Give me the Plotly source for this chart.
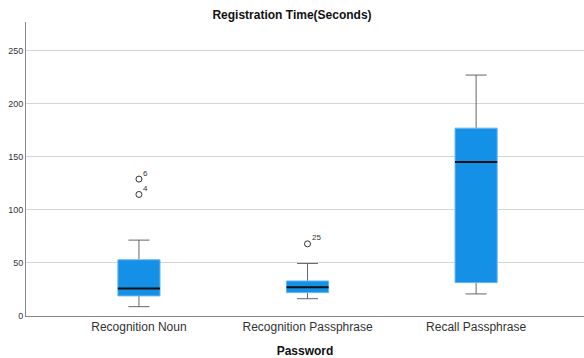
import plotly.graph_objects as go

categories = ["Recognition Noun", "Recognition Passphrase", "Recall Passphrase"]
whisker_low = [8.8, 16.3, 20.8]
q1 = [18.9, 22.0, 31.4]
median = [26.0, 27.0, 145.0]
q3 = [53.0, 33.0, 177.0]
whisker_high = [71.5, 49.5, 227.0]
outlier_cat = [0, 0, 1]
outlier_val = [129.0, 114.5, 68.0]
outlier_lab = ["6", "4", "25"]

BOX_HALF = 0.125
CAP_HALF = 0.0625
fill = "#1490e6"
edge = "#6bb8f0"
wcol = "#666666"

fig = go.Figure()
for i, c in enumerate(categories):
    fig.add_trace(go.Scatter(x=[i, i, None, i, i], y=[whisker_low[i], q1[i], None, q3[i], whisker_high[i]],
                             mode="lines", line=dict(color=wcol, width=1), hoverinfo="skip", showlegend=False))
    fig.add_trace(go.Scatter(x=[i - CAP_HALF, i + CAP_HALF, None, i - CAP_HALF, i + CAP_HALF],
                             y=[whisker_low[i], whisker_low[i], None, whisker_high[i], whisker_high[i]],
                             mode="lines", line=dict(color=wcol, width=1), hoverinfo="skip", showlegend=False))
    fig.add_trace(go.Scatter(x=[i - BOX_HALF, i + BOX_HALF, i + BOX_HALF, i - BOX_HALF, i - BOX_HALF],
                             y=[q1[i], q1[i], q3[i], q3[i], q1[i]], fill="toself", fillcolor=fill,
                             mode="lines", line=dict(color=edge, width=1), hoverinfo="skip", showlegend=False))
    fig.add_trace(go.Scatter(x=[i - BOX_HALF, i + BOX_HALF], y=[median[i], median[i]],
                             mode="lines", line=dict(color="#111111", width=2), hoverinfo="skip", showlegend=False))

fig.add_trace(go.Scatter(x=outlier_cat, y=outlier_val, mode="markers",
                         marker=dict(symbol="circle-open", size=6, color="#333333", line=dict(width=1)),
                         showlegend=False, hoverinfo="skip"))
for xv, yv, lab in zip(outlier_cat, outlier_val, outlier_lab):
    fig.add_annotation(x=xv, y=yv, text=lab, showarrow=False, xshift=7 + 2 * (len(lab) - 1), yshift=6,
                       font=dict(size=8, color="#333333", family="Liberation Sans, Arial"))

fig.update_layout(
    width=584, height=358,
    margin=dict(l=26, r=0, t=22, b=42, autoexpand=False),
    paper_bgcolor="white", plot_bgcolor="white",
    title=dict(text="<b>Registration Time(Seconds)</b>", x=0.5, xanchor="center",
               y=1 - 15 / 358, yanchor="middle", yref="container", automargin=False,
               font=dict(size=12, color="#111111", family="Liberation Sans, Arial")),
    font=dict(family="Liberation Sans, Arial", color="#333333"),
)
fig.update_xaxes(range=[-0.67, 2.64], tickvals=[0, 1, 2], ticktext=categories, showgrid=False,
                 zeroline=False, showline=True, linecolor="#888888", linewidth=1, ticks="",
                 automargin=False, tickfont=dict(size=12, color="#333333"),
                 title=dict(text="<b>Password</b>", font=dict(size=12, color="#111111"), standoff=13))
fig.update_yaxes(range=[0, 277], tickvals=[0, 50, 100, 150, 200, 250], showgrid=True, gridcolor="#d4d4d4",
                 zeroline=False, showline=True, linecolor="#888888", linewidth=1, ticks="",
                 automargin=False, tickfont=dict(size=9, color="#333333"))

fig.write_html("out.html", config={"displayModeBar": False},
               post_script="document.body.style.margin='0';document.body.style.overflow='hidden';")
